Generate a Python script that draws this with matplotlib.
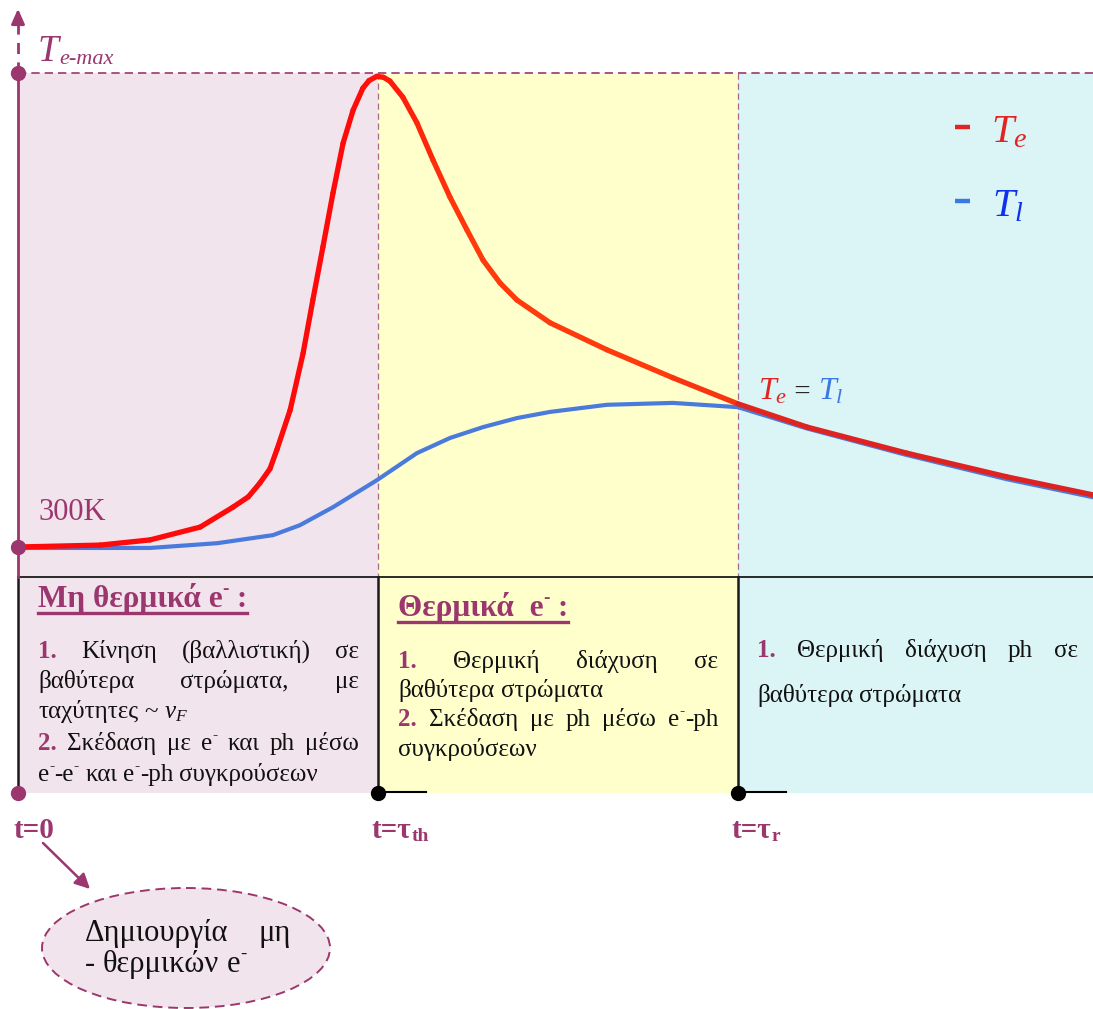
import matplotlib

matplotlib.use("Agg")
import matplotlib.pyplot as plt
import numpy as np
from matplotlib.collections import LineCollection
from matplotlib.colors import LinearSegmentedColormap
from matplotlib.patches import Ellipse, Rectangle

W, H = 1093, 1009
plt.rcParams["mathtext.fontset"] = "custom"
plt.rcParams["mathtext.rm"] = "Liberation Serif"
plt.rcParams["mathtext.it"] = "Liberation Serif:italic"
plt.rcParams["mathtext.bf"] = "Liberation Serif:bold"
SERIF = ["Liberation Serif", "DejaVu Serif"]

MAUVE = "#9b376e"
PINK = "#f2e4ec"
YELLOW = "#ffffcc"
CYAN = "#dbf5f6"
RED = "#e02424"
BLUE = "#4a7bdc"
INK = "#111111"

# time in units of tau_th, temperature normalised: 0 = 300K, 1 = Te-max
t_e = [0, 0.228, 0.367, 0.506, 0.597, 0.64, 0.672, 0.70, 0.719, 0.756,
       0.792, 0.819, 0.847, 0.875, 0.903, 0.931, 0.958, 0.975, 0.997, 1.015,
       1.033, 1.069, 1.108, 1.153, 1.2, 1.247, 1.292, 1.339, 1.386, 1.478,
       1.636, 1.819, 2.0, 2.192, 2.469, 2.747, 2.986]
T_e = [0.0, 0.004, 0.015, 0.042, 0.084, 0.106, 0.135, 0.165, 0.205, 0.289,
       0.409, 0.521, 0.633, 0.747, 0.852, 0.922, 0.968, 0.984, 0.993, 0.991,
       0.983, 0.949, 0.895, 0.816, 0.738, 0.669, 0.605, 0.557, 0.521, 0.473,
       0.416, 0.357, 0.302, 0.253, 0.198, 0.148, 0.110]
t_l = [0, 0.367, 0.553, 0.708, 0.783, 0.875, 0.997, 1.108, 1.2, 1.292,
       1.386, 1.478, 1.636, 1.819, 2.0, 2.192, 2.469, 2.747, 2.986]
T_l = [-0.002, -0.002, 0.008, 0.025, 0.046, 0.084, 0.141, 0.198, 0.230,
       0.253, 0.272, 0.285, 0.300, 0.304, 0.295, 0.250, 0.194, 0.143, 0.105]
phase_t = [0, 1, 2]  # t=0, tau_th, tau_r
phase_colors = [PINK, YELLOW, CYAN]

# pixel layout
X0, SX = 18, 360
Y0, SY = 547, 474
YTOP, YBOX, YAX = 73, 577, 793


def px(t):
    return X0 + SX * t


fig = plt.figure(figsize=(W / 100, H / 100), dpi=100)
ax = fig.add_axes([0, 0, 1, 1])
ax.set_xlim(0, W)
ax.set_ylim(H, 0)
ax.axis("off")
R = fig.canvas.get_renderer()

# phase backgrounds
edges = [px(t) for t in phase_t] + [W]
for i, c in enumerate(phase_colors):
    ax.add_patch(Rectangle((edges[i], YTOP), edges[i + 1] - edges[i], YAX - YTOP,
                           color=c, lw=0, zorder=0))

# dashed guides
ax.plot([X0, W], [YTOP, YTOP], color=MAUVE, lw=1.2, ls=(0, (5, 3)), zorder=1)
for t in phase_t[1:]:
    ax.plot([px(t)] * 2, [YTOP, YBOX], color="#a8688a", lw=0.9, ls=(0, (5, 3)), zorder=1)

# boxes borders
ax.plot([X0, W], [YBOX, YBOX], color="#1a1a1a", lw=1.3, zorder=2)
for t in phase_t:
    ax.plot([px(t)] * 2, [YBOX, YAX], color="#1a1a1a", lw=1.8, zorder=2)

# y axis
ax.plot([X0, X0], [YTOP, YBOX], color=MAUVE, lw=2, zorder=3)
ax.plot([X0, X0], [YTOP, 24], color=MAUVE, lw=2, ls=(0, (4, 3)), zorder=3)
ax.annotate("", xy=(X0, 6), xytext=(X0, 26),
            arrowprops=dict(arrowstyle="-|>,head_length=0.9,head_width=0.4",
                            color=MAUVE, lw=2), zorder=3)

# x axis
ax.annotate("", xy=(W + 2, YAX), xytext=(X0, YAX),
            arrowprops=dict(arrowstyle="-|>,head_length=0.8,head_width=0.35",
                            color=MAUVE, lw=3.2, shrinkA=0, shrinkB=0), zorder=3)
for t in phase_t[1:]:
    ax.plot([px(t), px(t) + 48], [YAX - 1, YAX - 1], color="black", lw=1.5, zorder=4)
ax.plot([px(phase_t[0])], [YAX], "o", ms=10, color=MAUVE, zorder=5)
ax.plot([px(t) for t in phase_t[1:]], [YAX] * 2, "o", ms=10, color="black", zorder=5)


def label(parts, x, y, **kw):
    """parts: list of (text, size, dy, style dict) placed side by side."""
    for s, fs, dy, st in parts:
        o = ax.text(x, y + dy, s, fontsize=fs, family=SERIF, va="baseline", **st, **kw)
        x += o.get_window_extent(R).width
    return x


def word(s, color=INK, weight="normal"):
    """'^' in s stands for a superscript minus (e^ -> e with small raised dash)."""
    chunks = s.split("^")
    pieces = []
    for i, ch in enumerate(chunks):
        if ch:
            pieces.append((ch, color, weight, 1.0, 0.0))
        if i < len(chunks) - 1:
            pieces.append(("-", color, weight, 0.62, -0.42))
    return pieces


def draw_word(pieces, x, y, fs, zorder=6):
    objs = []
    for s, c, w, k, dy in pieces:
        o = ax.text(x, y + dy * fs / 0.72, s, fontsize=fs * k, color=c, fontweight=w,
                    family=SERIF, va="baseline", zorder=zorder)
        x += o.get_window_extent(R).width
        objs.append(o)
    return objs, x


def words_line(words, x0, x1, y, justify=True, fs=18):
    built = []
    for wd in words:
        objs, xe = draw_word(wd, x0, y, fs)
        built.append((objs, xe - x0))
    widths = [b[1] for b in built]
    if justify and len(built) > 1:
        gap = (x1 - x0 - sum(widths)) / (len(built) - 1)
    else:
        gap = fs * 0.25 / 0.72
    x = x0
    for objs, w in built:
        for o in objs:
            o.set_x(o.get_position()[0] - x0 + x)
        x += w + gap


def para(lines, x0, x1, ys):
    for (items, just), y in zip(lines, ys):
        words_line(items, x0, x1, y, justify=just)


def N(s):
    return word(s)


def B(s):
    return word(s, MAUVE, "bold")


def title(s, x, y, uy):
    _, xe = draw_word(word(s, MAUVE, "bold"), x, y, 22.5)
    ax.plot([x, xe], [uy, uy], color=MAUVE, lw=2.4, zorder=6)


title("Μη θερμικά e^ :", 38, 607, 613)
para([
    ([B("1."), N("Κίνηση"), N("(βαλλιστική)"), N("σε")], True),
    ([N("βαθύτερα"), N("στρώματα,"), N("με")], True),
    ([N("ταχύτητες"), N("~"), N("$v_F$")], False),
    ([B("2."), N("Σκέδαση"), N("με"), N("e^"), N("και"), N("ph"), N("μέσω")], True),
    ([N("e^-e^"), N("και"), N("e^-ph"), N("συγκρούσεων")], False),
], 38, 359, [658, 688, 718, 750, 781])

title("Θερμικά  e^ :", 398, 616, 622)
para([
    ([B("1."), N("Θερμική"), N("διάχυση"), N("σε")], True),
    ([N("βαθύτερα"), N("στρώματα")], False),
    ([B("2."), N("Σκέδαση"), N("με"), N("ph"), N("μέσω"), N("e^-ph")], True),
    ([N("συγκρούσεων")], False),
], 398, 718, [668, 697, 726, 756])

para([
    ([B("1."), N("Θερμική"), N("διάχυση"), N("ph"), N("σε")], True),
    ([N("βαθύτερα"), N("στρώματα")], False),
], 757, 1078, [657, 702])

# axis labels
bst = dict(color=MAUVE, fontweight="bold")
label([("t=0", 21, 0, bst)], 14, 838)
label([("t=τ", 21, 0, bst), ("th", 14, 3, bst)], 372, 838)
label([("t=τ", 21, 0, bst), ("r", 14, 3, bst)], 732, 838)

ist = dict(color=MAUVE, style="italic")
label([("T", 27, 0, ist), ("e-max", 16, 3, ist)], 38, 61)
ax.text(38, 520, "300K", fontsize=22, color=MAUVE, family=SERIF, va="baseline")

# legend
ax.plot([955, 970], [127, 127], color=RED, lw=3.2, solid_capstyle="butt")
ax.plot([955, 970], [201, 201], color="#3a78e6", lw=3.2, solid_capstyle="butt")
ax.text(991, 142, "$T_e$", fontsize=29, color=RED, va="baseline")
ax.text(992, 216, "$T_l$", fontsize=29, color="#1030f0", va="baseline")

# Te = Tl
label([("$T_e$", 23, 0, dict(color=RED)), (" = ", 21, 0, dict(color="#222222")),
       ("$T_l$", 23, 0, dict(color="#3a78e6"))], 758, 400)

# arrow + ellipse
ax.annotate("", xy=(90, 889), xytext=(43, 843),
            arrowprops=dict(arrowstyle="-|>,head_length=0.9,head_width=0.45",
                            color=MAUVE, lw=1.8, shrinkA=0, shrinkB=0))
ax.add_patch(Ellipse((186, 948), 288, 120, facecolor=PINK, edgecolor=MAUVE,
                     lw=1.4, ls=(0, (5, 3))))
words_line([N("Δημιουργία"), N("μη")], 85, 291, 941, fs=22)
words_line([N("-"), N("θερμικών"), N("e^")], 85, 291, 972, justify=False, fs=22)

# curves on a data axes aligned with the layout
cax = fig.add_axes([X0 / W, (H - Y0) / H, (W - X0) / W, SY / H])
cax.set_xlim(0, (W - X0) / SX)
cax.set_ylim(0, 1)
cax.axis("off")
cax.patch.set_alpha(0)

cax.plot(t_l, T_l, color=BLUE, lw=3, solid_capstyle="round", clip_on=False)
pts = np.column_stack([t_e, T_e])
segs = np.stack([pts[:-1], pts[1:]], axis=1)
cmap = LinearSegmentedColormap.from_list(
    "te", [(0, "#ff0a0a"), (0.31, "#ff0a0a"), (0.42, "#ff3a0c"),
           (0.62, "#ff3a0c"), (0.69, "#e02420"), (1, "#dc2222")])
mid = (np.array(t_e[:-1]) + np.array(t_e[1:])) / 2
lc = LineCollection(segs, colors=cmap(mid / 3), lw=3.8, capstyle="round",
                    joinstyle="round", clip_on=False)
cax.add_collection(lc)
cax.plot([0, 0], [0, 1], "o", ms=10, color=MAUVE, clip_on=False, zorder=5)

fig.savefig("out.png", dpi=100)
